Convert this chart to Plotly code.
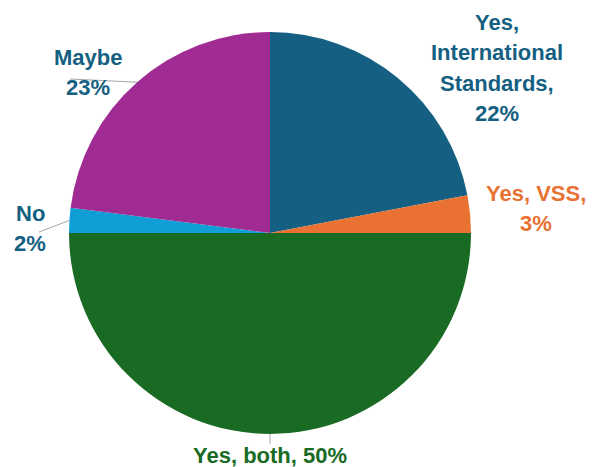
import math
import plotly.graph_objects as go

# Survey responses
categories = ["Yes, International Standards", "Yes, VSS", "Yes, both", "No", "Maybe"]
shares = [22, 3, 50, 2, 23]
slice_colors = ["#156082", "#e97132", "#196b24", "#0f9ed5", "#a02b93"]
label_lines = [["Yes,", "International", "Standards,", "22%"], ["Yes, VSS,", "3%"],
               ["Yes, both, 50%"], ["No", "2%"], ["Maybe", "23%"]]
label_colors = ["#156082", "#e97132", "#196b24", "#156082", "#156082"]

W, H = 594, 467
CX, CY, R = 270, 233, 201  # pie centre / radius in pixels
LINE_GAP = 30.5             # label line spacing in pixels

# label anchors: centre x and first-line y (pixels from top-left)
label_pos = [(497, 22), (536, 193), (270, 455), (30, 213), (88, 57)]
leader_end = [None, None, (270, 444), (39, 232), (70, 79)]


def px(x):
    return x / W


def py(y):
    return 1 - y / H


fig = go.Figure(go.Pie(
    labels=categories,
    values=shares,
    sort=False,
    direction="clockwise",
    rotation=0,
    marker=dict(colors=slice_colors, line=dict(width=0)),
    textinfo="none",
    hoverinfo="label+percent",
    showlegend=False,
    domain=dict(x=[px(CX - R), px(CX + R)], y=[py(CY + R), py(CY - R)]),
))

total = sum(shares)
cum = 0
shapes = []
annotations = []
for v, lines, col, pos, end in zip(shares, label_lines, label_colors, label_pos, leader_end):
    mid = (cum + v / 2) / total * 2 * math.pi
    cum += v
    if end is not None:
        ex = CX + R * math.sin(mid)
        ey = CY - R * math.cos(mid)
        shapes.append(dict(type="line", xref="paper", yref="paper",
                           x0=px(ex), y0=py(ey), x1=px(end[0]), y1=py(end[1]),
                           line=dict(color="#a6a6a6", width=1)))
    for i, line in enumerate(lines):
        annotations.append(dict(text=f"<b>{line}</b>", x=px(pos[0]),
                                y=py(pos[1] + i * LINE_GAP),
                                xref="paper", yref="paper", showarrow=False,
                                xanchor="center", yanchor="middle",
                                font=dict(family="Liberation Sans, Arial, sans-serif",
                                          size=22, color=col)))

fig.update_layout(
    width=W, height=H,
    margin=dict(l=0, r=0, t=0, b=0),
    paper_bgcolor="white",
    plot_bgcolor="white",
    shapes=shapes,
    annotations=annotations,
)

fig.write_html("out.html")
